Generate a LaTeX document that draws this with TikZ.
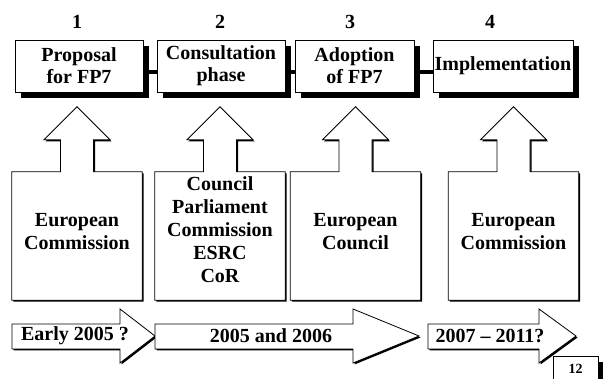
\documentclass[tikz,border=0pt]{standalone}
\usepackage{fontspec}
\setmainfont{Liberation Serif}
\usetikzlibrary{calc,shadows}
\tikzset{
  stage/.style={draw,fill=white,line width=0.8pt,minimum height=52,inner sep=0pt,
    align=center,font=\bfseries\fontsize{20}{22}\selectfont,
    drop shadow={shadow xshift=6pt,shadow yshift=-6pt,fill=black,opacity=1}},
  actor/.style={minimum width=130,minimum height=128,inner sep=0pt,align=center,
    font=\bfseries\fontsize{20}{23}\selectfont},
  outline/.style={draw,fill=white,line width=0.8pt,
    drop shadow={shadow xshift=1.5pt,shadow yshift=-1.5pt,fill=black,opacity=1}},
  link/.style={line width=4pt},
  when/.style={inner sep=0pt,font=\bfseries\fontsize{20}{22}\selectfont}
}
% box with an arrow pointing up out of it
\newcommand\actorshape[1]{%
  \path[outline] (#1.north west) -- ($(#1.north)+(-16.5,0)$) -- ++(0,-32) -- ++(-16.5,0)
    -- ($(#1.north)+(0,-65)$) -- ($(#1.north)+(33,-32)$) -- ++(-16.5,0)
    -- ($(#1.north)+(16.5,0)$) -- (#1.north east) -- (#1.south east)
    -- (#1.south west) -- cycle;}
% time arrow: tail x, head base x, tip x
\newcommand\timearrow[3]{%
  \path[outline] (#1,324) -- (#2,324) -- (#2,309) -- (#3,336) -- (#2,363)
    -- (#2,349) -- (#1,349) -- cycle;}

\begin{document}
\begin{tikzpicture}[x=1pt,y=-1pt]
  \useasboundingbox (0,0) rectangle (603,379);
  % stages
  \node[stage,minimum width=128] (s1) at (79,66) {Proposal\\for FP7};
  \node[stage,minimum width=128] (s2) at (221,66) {Consultation\\phase};
  \node[stage,minimum width=119] (s3) at (354.5,66) {Adoption\\of FP7};
  \node[stage,minimum width=140] (s4) at (503,66) {Implementation};
  \begin{scope}[link]
    \draw ([yshift=-6pt]s1.east) -- ([yshift=-6pt]s2.west);
    \draw ([yshift=-6pt]s2.east) -- ([yshift=-6pt]s3.west);
    \draw ([yshift=-6pt]s3.east) -- ([yshift=-6pt]s4.west);
  \end{scope}
  \foreach \n/\x in {1/77,2/220,3/350,4/490}
    \node[font=\bfseries\fontsize{20}{22}\selectfont] (n\n) at (\x,22) {\n};
  % actors
  \coordinate (c1) at (77,236);
  \coordinate (c2) at (220,236);
  \coordinate (c3) at (355.5,236);
  \coordinate (c4) at (513.5,236);
  \foreach \i in {1,...,4}{
    \node[actor] (b\i) at (c\i) {};
    \actorshape{b\i}
  }
  \node[actor] (a1) at (77,232) {European\\Commission};
  \node[actor] (a2) at (220,230) {Council\\Parliament\\Commission\\ESRC\\CoR};
  \node[actor] (a3) at (355.5,232) {European\\Council};
  \node[actor] (a4) at (513.5,232) {European\\Commission};
  % time line
  \timearrow{12}{120}{155}
  \timearrow{155}{353}{419}
  \timearrow{428}{539}{576}
  \node[when] (t1) at (75,336) {Early 2005 ?};
  \node[when] (t2) at (271,336) {2005 and 2006};
  \node[when] (t3) at (490,336) {2007 -- 2011?};
  % page number
  \node[draw,fill=white,line width=0.8pt,minimum width=45,minimum height=26,
    font=\bfseries\fontsize{14}{16}\selectfont,
    drop shadow={shadow xshift=6pt,shadow yshift=-6pt,fill=black,opacity=1}]
    (pg) at (575.5,369) {12};
\end{tikzpicture}
\end{document}
